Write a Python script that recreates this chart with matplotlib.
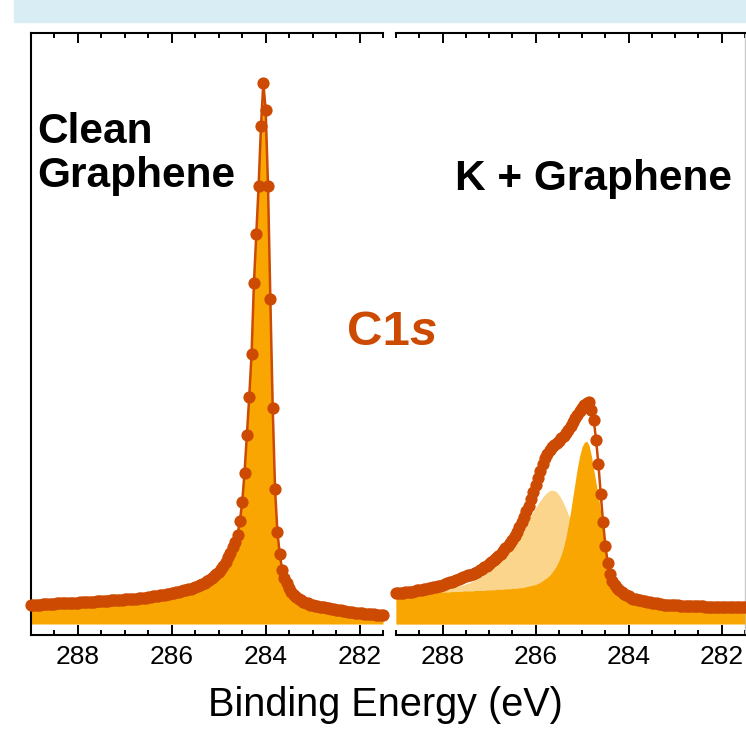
import numpy as np
import matplotlib
matplotlib.use("Agg")
import matplotlib.pyplot as plt
from matplotlib.patches import Rectangle

plt.rcParams['font.family'] = ['Liberation Sans', 'DejaVu Sans']

# binding energy grid (eV): 289.00 -> 281.50, 0.05 eV steps
energy = np.round(np.linspace(289.0, 281.5, 151), 2)

# clean graphene C1s (normalised intensity)
clean_counts = [
    0.036, 0.036, 0.036, 0.036, 0.036, 0.037, 0.037, 0.037, 0.037, 0.037,
    0.037, 0.038, 0.038, 0.038, 0.038, 0.038, 0.039, 0.039, 0.039, 0.039,
    0.039, 0.040, 0.040, 0.040, 0.040, 0.041, 0.041, 0.041, 0.042, 0.042,
    0.042, 0.043, 0.043, 0.043, 0.044, 0.044, 0.044, 0.045, 0.045, 0.045,
    0.046, 0.046, 0.046, 0.047, 0.047, 0.047, 0.048, 0.048, 0.049, 0.049,
    0.050, 0.050, 0.051, 0.052, 0.052, 0.053, 0.054, 0.054, 0.055, 0.056,
    0.057, 0.058, 0.059, 0.060, 0.061, 0.062, 0.063, 0.064, 0.065, 0.067,
    0.068, 0.070, 0.072, 0.074, 0.076, 0.079, 0.082, 0.085, 0.089, 0.093,
    0.097, 0.102, 0.108, 0.115, 0.123, 0.132, 0.142, 0.152, 0.165, 0.190,
    0.225, 0.280, 0.350, 0.420, 0.500, 0.630, 0.720, 0.810, 0.920, 1.000,
    0.950, 0.810, 0.600, 0.400, 0.250, 0.170, 0.130, 0.100, 0.085, 0.075,
    0.066, 0.059, 0.054, 0.050, 0.047, 0.044, 0.041, 0.039, 0.038, 0.036,
    0.035, 0.034, 0.033, 0.032, 0.031, 0.031, 0.030, 0.029, 0.028, 0.027,
    0.026, 0.026, 0.025, 0.024, 0.024, 0.023, 0.022, 0.022, 0.021, 0.021,
    0.020, 0.020, 0.019, 0.019, 0.018, 0.018, 0.018, 0.017, 0.017, 0.017,
    0.017,
]

# K + graphene C1s
k_counts = [
    0.057, 0.057, 0.058, 0.058, 0.059, 0.059, 0.060, 0.060, 0.061, 0.062,
    0.062, 0.063, 0.064, 0.065, 0.066, 0.067, 0.068, 0.069, 0.070, 0.071,
    0.073, 0.074, 0.075, 0.077, 0.078, 0.080, 0.081, 0.083, 0.085, 0.086,
    0.088, 0.090, 0.091, 0.093, 0.095, 0.097, 0.100, 0.102, 0.105, 0.108,
    0.111, 0.114, 0.118, 0.122, 0.126, 0.130, 0.135, 0.140, 0.145, 0.150,
    0.156, 0.163, 0.171, 0.179, 0.188, 0.198, 0.208, 0.219, 0.231, 0.244,
    0.257, 0.270, 0.283, 0.296, 0.306, 0.315, 0.322, 0.327, 0.331, 0.335,
    0.339, 0.343, 0.348, 0.353, 0.359, 0.366, 0.373, 0.380, 0.387, 0.394,
    0.400, 0.405, 0.409, 0.410, 0.395, 0.377, 0.340, 0.295, 0.240, 0.188,
    0.145, 0.113, 0.092, 0.080, 0.072, 0.067, 0.063, 0.059, 0.056, 0.053,
    0.051, 0.049, 0.047, 0.046, 0.045, 0.044, 0.043, 0.042, 0.041, 0.040,
    0.039, 0.038, 0.038, 0.037, 0.037, 0.036, 0.036, 0.036, 0.035, 0.035,
    0.035, 0.035, 0.034, 0.034, 0.034, 0.034, 0.033, 0.033, 0.033, 0.033,
    0.033, 0.033, 0.033, 0.032, 0.032, 0.032, 0.032, 0.032, 0.032, 0.032,
    0.032, 0.032, 0.032, 0.032, 0.032, 0.032, 0.032, 0.032, 0.032, 0.032,
    0.032,
]

# fit: background + sharp component (289.00 -> 284.05)
k_sharp_fit = [
    0.055, 0.055, 0.055, 0.055, 0.056, 0.056, 0.056, 0.056, 0.056, 0.057,
    0.057, 0.057, 0.057, 0.057, 0.058, 0.058, 0.058, 0.058, 0.058, 0.059,
    0.059, 0.059, 0.059, 0.059, 0.060, 0.060, 0.060, 0.060, 0.060, 0.061,
    0.061, 0.061, 0.061, 0.061, 0.062, 0.062, 0.062, 0.062, 0.062, 0.063,
    0.063, 0.063, 0.063, 0.064, 0.064, 0.064, 0.064, 0.065, 0.065, 0.065,
    0.066, 0.066, 0.066, 0.067, 0.067, 0.068, 0.069, 0.070, 0.071, 0.072,
    0.073, 0.075, 0.077, 0.080, 0.083, 0.086, 0.090, 0.095, 0.101, 0.108,
    0.117, 0.128, 0.142, 0.160, 0.182, 0.207, 0.235, 0.263, 0.290, 0.312,
    0.328, 0.336, 0.338, 0.330, 0.310, 0.285, 0.260, 0.238, 0.205, 0.170,
    0.140, 0.112, 0.092, 0.080, 0.072, 0.067, 0.063, 0.059, 0.056, 0.053,
]

# fit: background + broad component (289.00 -> 284.05)
k_broad_fit = [
    0.055, 0.055, 0.056, 0.056, 0.056, 0.057, 0.057, 0.057, 0.058, 0.058,
    0.058, 0.059, 0.059, 0.060, 0.060, 0.061, 0.061, 0.062, 0.063, 0.063,
    0.064, 0.065, 0.066, 0.067, 0.068, 0.069, 0.070, 0.071, 0.072, 0.073,
    0.075, 0.076, 0.078, 0.080, 0.082, 0.084, 0.087, 0.089, 0.092, 0.095,
    0.098, 0.102, 0.106, 0.110, 0.114, 0.118, 0.123, 0.128, 0.133, 0.138,
    0.145, 0.151, 0.158, 0.165, 0.172, 0.179, 0.187, 0.195, 0.202, 0.209,
    0.216, 0.223, 0.229, 0.235, 0.240, 0.244, 0.247, 0.248, 0.248, 0.246,
    0.242, 0.236, 0.228, 0.219, 0.209, 0.198, 0.186, 0.174, 0.162, 0.150,
    0.138, 0.126, 0.115, 0.104, 0.095, 0.088, 0.082, 0.077, 0.073, 0.070,
    0.068, 0.066, 0.064, 0.062, 0.060, 0.058, 0.056, 0.054, 0.052, 0.051,
]

tick_pos = [288, 286, 284, 282]
tick_labels = ['288', '286', '284', '282']
minor_pos = np.arange(289.0, 281.4, -0.5)

dot_color = '#CC4A02'
orange = '#F9A602'
light = '#FBD58C'

W, H = 746, 731
fig = plt.figure(figsize=(W / 100, H / 100), dpi=100)

# light blue strip at the top of the cropped slide
fig.patches.append(Rectangle((14 / W, 709 / H), 1, 22 / H, transform=fig.transFigure,
                             color='#D8EEF4', zorder=0))

ax1 = fig.add_axes([31 / W, 96 / H, 352 / W, 602 / H])
ax2 = fig.add_axes([396 / W, 96 / H, 349 / W, 602 / H])

for ax in (ax1, ax2):
    ax.set_xlim(289, 281.5)
    ax.set_ylim(-0.0203, 1.0924)
    ax.set_xticks(tick_pos)
    ax.set_xticklabels(tick_labels)
    ax.set_xticks(minor_pos, minor=True)
    ax.set_yticks([])
    ax.tick_params(axis='x', which='both', direction='in', top=True, bottom=True,
                   width=1.4, labelsize=19, pad=7, colors='black')
    ax.tick_params(axis='x', which='major', length=7.5)
    ax.tick_params(axis='x', which='minor', length=3.8)
    for s in ax.spines.values():
        s.set_linewidth(1.5)

ax1.spines['right'].set_visible(False)
ax2.spines['left'].set_visible(False)
ax2.spines['right'].set_color('#C8C8C8')
ax2.spines['right'].set_linewidth(1.0)

# clean graphene
ax1.fill_between(energy, 0, clean_counts, color=orange, lw=0, zorder=2)
ax1.plot(energy, clean_counts, 'o-', color=dot_color, ms=8.8, lw=1.8,
         mew=0, clip_on=False, zorder=5)

# K + graphene
n = len(k_broad_fit)
k_fit = np.concatenate([k_sharp_fit, k_counts[n:]])
ax2.fill_between(energy[:n], 0, k_broad_fit, color=light, lw=0, zorder=2)
ax2.plot(energy[:n], k_broad_fit, color='white', lw=1.3, zorder=3)
ax2.fill_between(energy, 0, k_fit, color=orange, lw=0, zorder=4)
ax2.plot(energy, k_counts, 'o-', color=dot_color, ms=8.8, lw=1.8,
         mew=0, clip_on=False, zorder=5)

# labels
fig.text(37 / W, 1 - 143 / H, 'Clean', fontsize=30.5, fontweight='bold', va='baseline')
fig.text(37 / W, 1 - 187 / H, 'Graphene', fontsize=30.5, fontweight='bold', va='baseline')
fig.text(455 / W, 1 - 190 / H, 'K + Graphene', fontsize=30.5, fontweight='bold', va='baseline')

t1 = fig.text(347 / W, 1 - 345 / H, 'C1', fontsize=35.5, fontweight='bold',
              color=dot_color, va='baseline')
ax2.annotate('s', xy=(1, 0), xycoords=t1, fontsize=35.5, fontweight='bold',
             style='italic', color=dot_color, va='bottom', ha='left')

fig.text(385 / W, 1 - 716 / H, 'Binding Energy (eV)', fontsize=28.5, ha='center',
         va='baseline')

fig.savefig('out.png', dpi=100)
